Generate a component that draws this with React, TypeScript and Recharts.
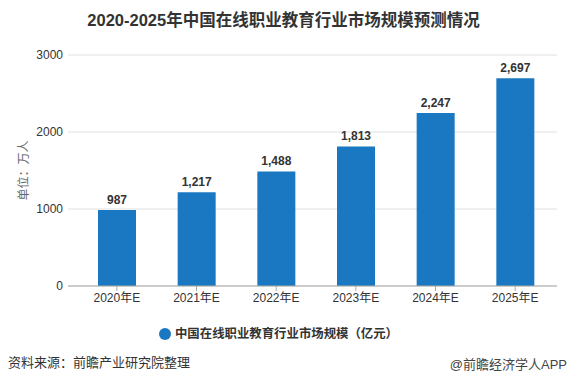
import React from 'react';
import { BarChart, Bar, XAxis, YAxis, CartesianGrid, Legend, LabelList } from 'recharts';

const categories = ['2020年E', '2021年E', '2022年E', '2023年E', '2024年E', '2025年E'];
const marketSize = [987, 1217, 1488, 1813, 2247, 2697];
const yTicks = [0, 1000, 2000, 3000];

const title = '2020-2025年中国在线职业教育行业市场规模预测情况';
const seriesName = '中国在线职业教育行业市场规模（亿元）';
const yLabel = '单位：万人';
const sourceText = '资料来源：前瞻产业研究院整理';
const brandText = '@前瞻经济学人APP';

const data = categories.map((c, i) => ({ name: c, value: marketSize[i] }));

const FONT = "'Liberation Sans', 'Noto Sans CJK SC', sans-serif";

const fmt = (v: any) => Number(v).toLocaleString('en-US');

export default function App() {
  return (
    <div style={{ position: 'absolute', left: 0, top: 0, width: 567, height: 385, background: '#fff', fontFamily: FONT }}>
      <div
        style={{
          position: 'absolute',
          left: 0,
          top: 9,
          width: 567,
          textAlign: 'center',
          fontSize: 16.5,
          fontWeight: 'bold',
          color: '#333',
          lineHeight: '22px',
          whiteSpace: 'nowrap',
        }}
      >
        {title}
      </div>
      <BarChart
        width={567}
        height={385}
        data={data}
        margin={{ top: 37, right: 10, left: 8, bottom: 69 }}
        style={{ position: 'absolute', left: 0, top: 0, fontFamily: FONT }}
      >
        <CartesianGrid vertical={false} stroke="#e0e0e0" />
        <XAxis
          dataKey="name"
          height={30}
          padding={{ left: 9, right: 2 }}
          axisLine={{ stroke: '#aaa' }}
          tickLine={{ stroke: '#aaa' }}
          tickSize={5}
          tickMargin={2}
          tick={{ fontSize: 12, fill: '#333' }}
          interval={0}
        />
        <YAxis
          width={60}
          domain={[0, 3000]}
          ticks={yTicks}
          axisLine={false}
          tickLine={false}
          tickSize={3}
          tickMargin={2}
          tick={{ fontSize: 12, fill: '#333' }}
          label={{ value: yLabel, angle: -90, position: 'center', dx: -14, fontSize: 12, fill: '#666' }}
        />
        <Legend
          verticalAlign="top"
          align="center"
          iconType="circle"
          iconSize={12}
          wrapperStyle={{ position: 'absolute', top: 324, left: 0, width: 567 }}
          formatter={(v: any) => (
            <span style={{ color: '#333', fontSize: 12.4, fontWeight: 'bold' }}>{v}</span>
          )}
        />
        <Bar dataKey="value" name={seriesName} fill="#1a78c2" barSize={38} isAnimationActive={false}>
          <LabelList
            dataKey="value"
            position="top"
            offset={6}
            formatter={fmt}
            style={{ fontSize: 12, fontWeight: 'bold', fill: '#333' }}
          />
        </Bar>
      </BarChart>
      <div style={{ position: 'absolute', left: 8, top: 354, fontSize: 13, color: '#333', whiteSpace: 'nowrap', lineHeight: '18px' }}>
        {sourceText}
      </div>
      <div style={{ position: 'absolute', right: 0, top: 356, fontSize: 13, color: '#444', whiteSpace: 'nowrap', lineHeight: '18px' }}>
        {brandText}
      </div>
    </div>
  );
}
